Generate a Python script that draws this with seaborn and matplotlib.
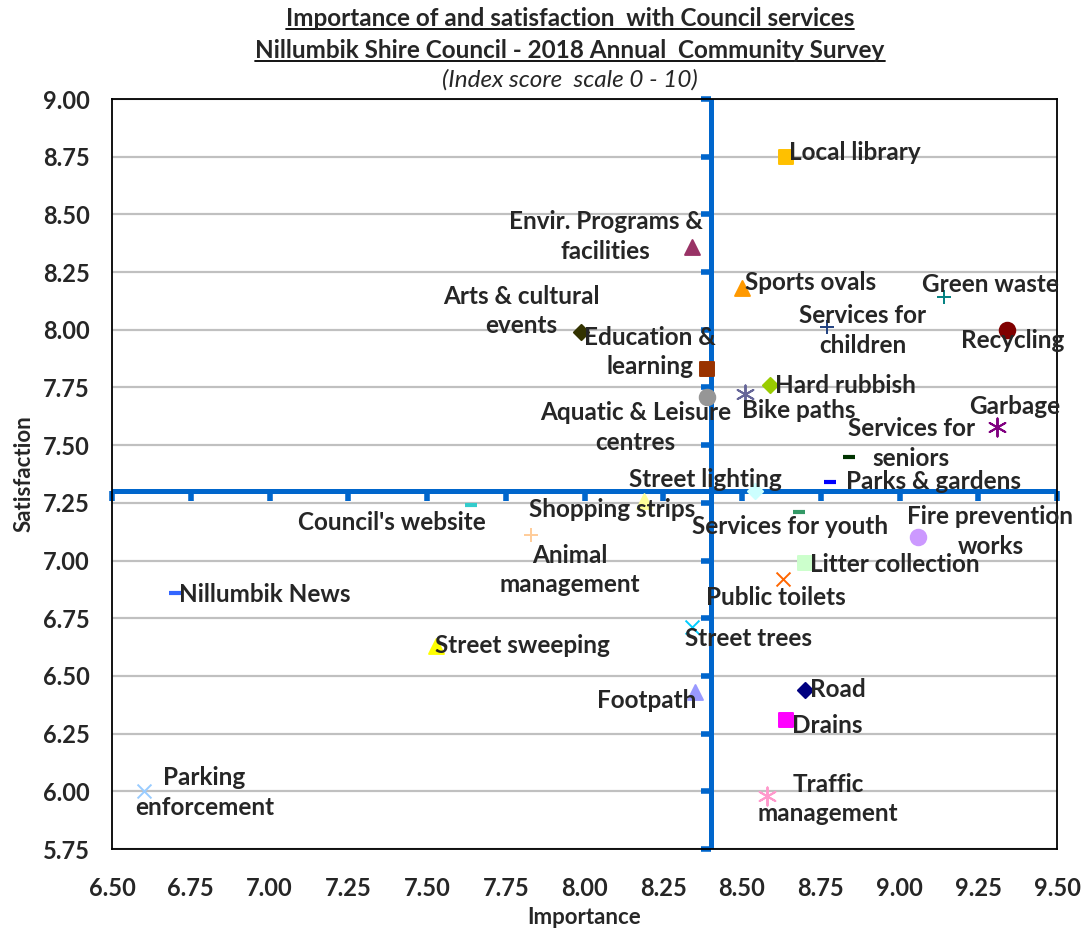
import numpy as np
import matplotlib
matplotlib.use("Agg")
import matplotlib.pyplot as plt
from matplotlib.lines import Line2D
import seaborn as sns

# Council services: importance (x) and satisfaction (y), index 0-10
services = ["Local library", "Envir. Programs &\nfacilities", "Sports ovals", "Green waste",
            "Services for\nchildren", "Recycling", "Arts & cultural\nevents", "Education &\nlearning",
            "Aquatic & Leisure\ncentres", "Hard rubbish", "Bike paths", "Garbage",
            "Services for\nseniors", "Parks & gardens", "Street lighting", "Shopping strips",
            "Council's website", "Services for youth", "Animal\nmanagement", "Fire prevention\nworks",
            "Litter collection", "Public toilets", "Nillumbik News", "Street trees",
            "Street sweeping", "Footpath", "Road", "Drains", "Parking\nenforcement",
            "Traffic\nmanagement"]
importance = [8.64, 8.34, 8.50, 9.14, 8.77, 9.34, 7.99, 8.39, 8.39, 8.59, 8.51, 9.31,
              8.84, 8.78, 8.54, 8.19, 7.64, 8.68, 7.83, 9.06, 8.70, 8.63, 6.70, 8.34,
              7.53, 8.35, 8.70, 8.64, 6.60, 8.58]
satisfaction = [8.75, 8.36, 8.18, 8.14, 8.01, 8.00, 7.99, 7.83, 7.71, 7.76, 7.72, 7.58,
                7.45, 7.34, 7.30, 7.26, 7.24, 7.21, 7.11, 7.10, 6.99, 6.92, 6.86, 6.71,
                6.63, 6.43, 6.44, 6.31, 6.00, 5.98]
mean_importance = 8.40
mean_satisfaction = 7.30

# Excel-like marker styles
ASTER = (6, 2, 0)
markers = ["s", "^", "^", "+", "+", "o", "D", "s", "o", "D", ASTER, ASTER, "_", "_", "D", "^",
           "_", "_", "+", "o", "s", "x", "_", "x", "^", "^", "D", "s", "x", ASTER]
colors = ["#FFC000", "#993366", "#FF9900", "#008080", "#1F3F7F", "#800000", "#333300", "#993300",
          "#969696", "#99CC00", "#666699", "#800080", "#003300", "#0000FF", "#CCFFFF", "#FFFF99",
          "#33CCCC", "#339966", "#FFCC99", "#CC99FF", "#CCFFCC", "#FF6600", "#3366FF", "#00CCFF",
          "#FFFF00", "#9999FF", "#000080", "#FF00FF", "#99CCFF", "#FF99CC"]
# label offsets in pixels (dx, dy) and horizontal alignment
offsets = [(3, 4, "left"), (-86, 10, "center"), (3, 6, "left"), (47, 13, "center"),
           (36, -3, "center"), (6, -11, "center"), (-60, 21, "center"), (-57, 17, "center"),
           (-72, -31, "center"), (5, 0, "left"), (-3, -16, "left"), (18, 20, "center"),
           (62, 13, "center"), (16, 1, "left"), (-49, 12, "center"), (-32, -9, "center"),
           (-79, -17, "center"), (-9, -14, "center"), (39, -35, "center"), (72, 6, "center"),
           (5, -2, "left"), (-7, -18, "center"), (4, -2, "left"), (57, -11, "center"),
           (-1, 0, "left"), (2, -8, "right"), (5, 0, "left"), (6, -6, "left"),
           (61, -1, "center"), (61, -3, "center")]

sns.set_style("white")
plt.rcParams["font.family"] = ["Lato", "DejaVu Sans"]

fig = plt.figure(figsize=(10.83, 9.31), dpi=100)
ax = fig.add_axes([112 / 1083, 82 / 931, 945 / 1083, 750 / 931])

ax.set_xlim(6.5, 9.5)
ax.set_ylim(5.75, 9.0)
xt = np.arange(6.5, 9.51, 0.25)
yt = np.arange(5.75, 9.01, 0.25)
ax.set_xticks(xt)
ax.set_yticks(yt)
ax.set_xticklabels([f"{v:.2f}" for v in xt], fontsize=17, fontweight="bold")
ax.set_yticklabels([f"{v:.2f}" for v in yt], fontsize=17, fontweight="bold")
ax.tick_params(axis="both", length=0)
ax.tick_params(axis="x", pad=20)
ax.tick_params(axis="y", pad=16)
ax.yaxis.grid(True, color="#C0C0C0", lw=1.6)
ax.xaxis.grid(False)
ax.set_axisbelow(True)
for sp in ax.spines.values():
    sp.set_color("black")
    sp.set_linewidth(1.3)

# quadrant lines at the means
blue = "#0066CC"
ax.axvline(mean_importance, color=blue, lw=3.6, zorder=2)
ax.axhline(mean_satisfaction, color=blue, lw=3.6, zorder=2)
ax.plot(np.full(len(yt), mean_importance), yt, ls="none", marker=0, ms=7, mew=4,
        color=blue, zorder=2, clip_on=False)
ax.plot(xt, np.full(len(xt), mean_satisfaction), ls="none", marker=3, ms=7, mew=4,
        color=blue, zorder=2, clip_on=False)

for i, name in enumerate(services):
    m = markers[i]
    size = {"s": 115, "^": 115, "o": 125, "D": 60, "+": 110, "x": 100, "_": 80}.get(m, 170)
    lw = 3 if m == "_" else 1.4
    sns.scatterplot(x=[importance[i]], y=[satisfaction[i]], marker=m, color=colors[i],
                    edgecolor=colors[i], s=size, linewidth=lw, ax=ax, zorder=3, legend=False)
    dx, dy, ha = offsets[i]
    ax.annotate(name, (importance[i], satisfaction[i]), xytext=(dx, dy),
                textcoords="offset pixels", ha=ha, va="center", fontsize=17.5,
                fontweight="bold", linespacing=1.35, zorder=4)

ax.set_xlabel("Importance", fontsize=16, fontweight="bold", labelpad=5)
ax.set_ylabel("Satisfaction", fontsize=16, fontweight="bold", labelpad=6)

t1 = fig.text(570 / 1083, 1 - 18 / 931, "Importance of and satisfaction  with Council services",
              ha="center", va="center", fontsize=17.5, fontweight="bold")
t2 = fig.text(570 / 1083, 1 - 50 / 931, "Nillumbik Shire Council - 2018 Annual  Community Survey",
              ha="center", va="center", fontsize=17.5, fontweight="bold")
fig.text(570 / 1083, 1 - 80 / 931, "(Index score  scale 0 - 10)", ha="center", va="center",
         fontsize=17.5, fontstyle="italic")

# underline the two title lines
fig.canvas.draw()
r = fig.canvas.get_renderer()
for t in (t1, t2):
    bb = t.get_window_extent(r)
    y = (bb.y0 + 1) / fig.bbox.height
    fig.add_artist(Line2D([bb.x0 / fig.bbox.width, bb.x1 / fig.bbox.width], [y, y],
                          color="black", lw=1.3))

fig.savefig("out.png", dpi=100)
